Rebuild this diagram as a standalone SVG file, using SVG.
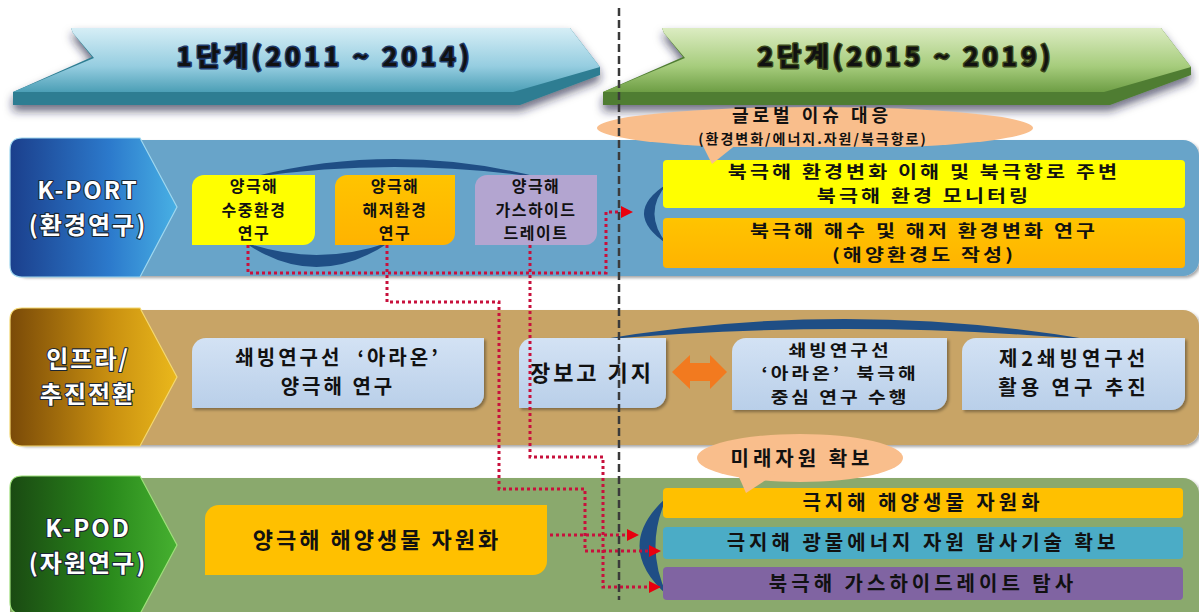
<svg xmlns="http://www.w3.org/2000/svg" width="1199" height="612" viewBox="0 0 1199 612">
<defs>
<style>
.t{font-family:"Noto Sans CJK KR","Noto Sans",sans-serif;font-weight:700;text-anchor:middle;fill:#111}
.s16{font-size:16px;letter-spacing:1.5px}
.s16w{font-size:16px;letter-spacing:2.5px}
.s165{font-size:16.5px;letter-spacing:2.5px}
.s20{font-size:20px;letter-spacing:4px}
.s20b{font-size:20px;letter-spacing:3px}
.s22{font-size:22px;letter-spacing:3px}
.lbl{font-size:24px;letter-spacing:2px;fill:#fff;stroke:#1b2633;stroke-width:2.2px;paint-order:stroke;stroke-linejoin:round}
.hd{font-size:26px;letter-spacing:4px;stroke-width:3px;paint-order:stroke;stroke-linejoin:round}
.c{fill:none;stroke:#c8103c;stroke-width:3;stroke-dasharray:3 3}
.ah{fill:#e8000f}
.arc{fill:#1f4e85}
.bx2{fill:url(#gBox2);filter:url(#sh2)}
.band{filter:url(#sh2)}
.peach{fill:#f9be8c}
</style>
<filter id="sh" x="-10%" y="-30%" width="120%" height="180%"><feDropShadow dx="0" dy="6" stdDeviation="5" flood-color="#1a1a40" flood-opacity="0.65"/></filter>
<filter id="sh2" x="-5%" y="-10%" width="110%" height="130%"><feDropShadow dx="2" dy="2" stdDeviation="1.5" flood-color="#000" flood-opacity="0.35"/></filter>
<clipPath id="clipTop"><rect x="0" y="0" width="1199" height="147"/></clipPath>
<linearGradient id="gH1" x1="0" y1="0" x2="0" y2="1"><stop offset="0" stop-color="#d6eef6"/><stop offset="0.6" stop-color="#95cde0"/><stop offset="1" stop-color="#4c9fb6"/></linearGradient>
<linearGradient id="gH2" x1="0" y1="0" x2="0" y2="1"><stop offset="0" stop-color="#dcecc2"/><stop offset="0.6" stop-color="#a6cc7c"/><stop offset="1" stop-color="#6e9e45"/></linearGradient>
<linearGradient id="gC1" x1="0" y1="0" x2="1" y2="0"><stop offset="0" stop-color="#1b3f8c"/><stop offset="0.6" stop-color="#2c7acc"/><stop offset="1" stop-color="#48b0e4"/></linearGradient>
<linearGradient id="gC2" x1="0" y1="0" x2="1" y2="0"><stop offset="0" stop-color="#7a4a08"/><stop offset="0.6" stop-color="#c99010"/><stop offset="1" stop-color="#eab81c"/></linearGradient>
<linearGradient id="gC3" x1="0" y1="0" x2="1" y2="0"><stop offset="0" stop-color="#1a4a12"/><stop offset="0.6" stop-color="#2a8a1c"/><stop offset="1" stop-color="#46b030"/></linearGradient>
<linearGradient id="gBox2" x1="0" y1="0" x2="0" y2="1"><stop offset="0" stop-color="#d3e2f4"/><stop offset="1" stop-color="#b9cfe9"/></linearGradient>
<linearGradient id="gOr" x1="0" y1="0" x2="0" y2="1"><stop offset="0" stop-color="#ffc400"/><stop offset="1" stop-color="#ffb300"/></linearGradient>
</defs>
<rect width="1199" height="612" fill="#fff"/>

<g id="phase1">
<path filter="url(#sh)" d="M13,92 L92,57 L73,33 L71,28 L570,28 L600,67 L600,75 L520,105 L13,105 Z" fill="#2d7d92"/>
<path d="M71,28 L570,28 L600,67 L513,92 L13,92 L94,58 L73,33 Z" fill="url(#gH1)"/>
<text class="t hd" x="325" y="66" fill="#d8eef8" stroke="#1e3a6a">1단계(2011 ~ 2014)</text>
</g>

<g id="phase2">
<path filter="url(#sh)" d="M603,92 L683,57 L664,33 L662,28 L1161,28 L1191,67 L1191,75 L1110,105 L603,105 Z" fill="#4f7d31"/>
<path d="M662,28 L1161,28 L1191,67 L1104,92 L603,92 L685,58 L664,33 Z" fill="url(#gH2)"/>
<text class="t hd" x="906" y="66" fill="#eef4c4" stroke="#39471a">2단계(2015 ~ 2019)</text>
</g>

<g id="band-kport">
<rect class="band" x="10" y="140" width="1189" height="136" rx="16" fill="#67a4c9"/>
<path d="M22,138 H140 L177,207 L140,277 H22 Q10,277 10,265 V150 Q10,138 22,138 Z" fill="url(#gC1)" stroke="#9fd8f0" stroke-width="1.2"/>
<text class="t lbl" x="88" y="199">K-PORT<tspan x="88" dy="35">(환경연구)</tspan></text>
</g>

<g id="band-infra">
<rect class="band" x="10" y="310" width="1189" height="135" rx="16" fill="#c8a466"/>
<path d="M22,308 H140 L177,377 L140,446 H22 Q10,446 10,434 V320 Q10,308 22,308 Z" fill="url(#gC2)" stroke="#f4d870" stroke-width="1.2"/>
<text class="t lbl" x="88" y="368">인프라/<tspan x="88" dy="35">추진전환</tspan></text>
</g>

<g id="band-kpod">
<rect class="band" x="10" y="478" width="1189" height="150" rx="16" fill="#8aa96d"/>
<path d="M22,476 H140 L177,545 L140,614 H22 Q10,614 10,602 V488 Q10,476 22,476 Z" fill="url(#gC3)" stroke="#9ee07a" stroke-width="1.2"/>
<text class="t lbl" x="88" y="537">K-POD<tspan x="88" dy="35">(자원연구)</tspan></text>
</g>

<g id="arc-kport-top"><path class="arc" d="M248,178 Q394,140 542,178 Q394,156 248,178 Z"/></g>
<g id="arc-kport-bottom"><path class="arc" d="M244,242 Q316,292 390,242 Q316,268 244,242 Z"/></g>

<g id="n-underwater">
<path d="M204,175 H315 V233 A12,12 0 0 1 303,245 H192 V187 A12,12 0 0 1 204,175 Z" fill="#ffff00"/>
<text class="t s16" x="254" y="192">양극해<tspan x="254" dy="23.5">수중환경</tspan><tspan x="254" dy="23.5">연구</tspan></text>
</g>
<g id="n-seabed">
<path d="M347,175 H455 V233 A12,12 0 0 1 443,245 H335 V187 A12,12 0 0 1 347,175 Z" fill="url(#gOr)"/>
<text class="t s16" x="395" y="192">양극해<tspan x="395" dy="23.5">해저환경</tspan><tspan x="395" dy="23.5">연구</tspan></text>
</g>
<g id="n-gashydrate">
<path d="M487,175 H597 V233 A12,12 0 0 1 585,245 H475 V187 A12,12 0 0 1 487,175 Z" fill="#b3a5d0"/>
<text class="t s16" x="536" y="192">양극해<tspan x="536" dy="23.5">가스하이드</tspan><tspan x="536" dy="23.5">드레이트</tspan></text>
</g>

<g id="bracket-kport"><path class="arc" d="M667,184 Q621,213 667,244 Q642,213 667,184 Z"/></g>
<g id="n-arctic-monitor">
<rect x="663" y="160" width="522" height="48" rx="4" fill="#ffff00"/>
<text class="t s165" transform="translate(924,0) scale(1.25,1)" x="0" y="178">북극해 환경변화 이해 및 북극항로 주변<tspan x="0" dy="24">북극해 환경 모니터링</tspan></text>
</g>
<g id="n-arctic-seawater">
<rect x="663" y="218" width="522" height="50" rx="4" fill="url(#gOr)"/>
<text class="t s165" transform="translate(924,0) scale(1.25,1)" x="0" y="237">북극해 해수 및 해저 환경변화 연구<tspan x="0" dy="24">(해양환경도 작성)</tspan></text>
</g>

<g id="arc-infra-top"><path class="arc" d="M598,340 Q845,298 1092,340 Q845,318 598,340 Z"/></g>
<g id="n-araon-polar">
<path class="bx2" d="M206,338 H484 V394 A14,14 0 0 1 470,408 H192 V352 A14,14 0 0 1 206,338 Z"/>
<text class="t s20b" x="338" y="365" xml:space="preserve">쇄빙연구선  ‘아라온’<tspan x="338" dy="29">양극해 연구</tspan></text>
</g>
<g id="n-jangbogo">
<path class="bx2" d="M533,338 H666 V394 A14,14 0 0 1 652,408 H519 V352 A14,14 0 0 1 533,338 Z"/>
<text class="t s22" x="592" y="381">장보고 기지</text>
</g>
<g id="n-double-arrow">
<path d="M672,372 L690,355 L690,363 L710,363 L710,355 L727,372 L710,389 L710,381 L690,381 L690,389 Z" fill="#f27a1f"/>
</g>
<g id="n-araon-arctic">
<path class="bx2" d="M746,338 H947 V396 A14,14 0 0 1 933,410 H732 V352 A14,14 0 0 1 746,338 Z"/>
<text class="t s16w" transform="translate(840,0) scale(1.2,1)" x="0" y="356" xml:space="preserve">쇄빙연구선<tspan x="0" dy="23.5">‘아라온’  북극해</tspan><tspan x="0" dy="23.5">중심 연구 수행</tspan></text>
</g>
<g id="n-second-icebreaker">
<path class="bx2" d="M976,338 H1185 V396 A14,14 0 0 1 1171,410 H962 V352 A14,14 0 0 1 976,338 Z"/>
<text class="t s20" x="1074" y="366">제2쇄빙연구선<tspan x="1074" dy="29">활용 연구 추진</tspan></text>
</g>

<g id="n-bio-polar">
<path d="M219,505 H547 V561 A14,14 0 0 1 533,575 H205 V519 A14,14 0 0 1 219,505 Z" fill="#ffc000"/>
<text class="t s22" x="377" y="548">양극해 해양생물 자원화</text>
</g>
<g id="bracket-kpod"><path class="arc" d="M667,497 Q612,546 667,595 Q644,546 667,497 Z"/></g>
<g id="n-bio-arctic">
<rect x="663" y="488" width="520" height="30" rx="4" fill="#ffc000"/>
<text class="t s20" x="923" y="510">극지해 해양생물 자원화</text>
</g>
<g id="n-mineral">
<rect x="663" y="527" width="520" height="32" rx="4" fill="#4bacc6"/>
<text class="t s20" x="923" y="550">극지해 광물에너지 자원 탐사기술 확보</text>
</g>
<g id="n-gas-arctic">
<rect x="663" y="567" width="520" height="33" rx="4" fill="#8064a2"/>
<text class="t s20" x="923" y="591">북극해 가스하이드레이트 탐사</text>
</g>

<g id="callout-global">
<ellipse class="peach" cx="815" cy="128" rx="218" ry="21" clip-path="url(#clipTop)"/>
<path class="peach" d="M700,140 L742,140 L712,164 Z"/>
<text class="t" x="812" y="122" style="font-size:18px;letter-spacing:4px">글로벌 이슈 대응<tspan x="813" dy="22" style="font-size:14px;letter-spacing:2px">(환경변화/에너지.자원/북극항로)</tspan></text>
</g>
<g id="callout-future">
<ellipse class="peach" cx="800" cy="458" rx="103" ry="24"/>
<path class="peach" d="M735,468 L778,472 L746,493 Z"/>
<text class="t s20" x="802" y="466">미래자원 확보</text>
</g>

<g id="connectors">
<path class="c" d="M248,245 V273 H606 V212 H622"/>
<path class="ah" d="M621,206 L633,212 L621,218 Z"/>
<path class="c" d="M387,245 V302 H499 V489 H585 V551 H650"/>
<path class="ah" d="M649,545 L661,551 L649,557 Z"/>
<path class="c" d="M530,245 V457 H603 V587 H650"/>
<path class="ah" d="M649,581 L661,587 L649,593 Z"/>
<path class="c" d="M550,535 H628"/>
<path class="ah" d="M627,529 L639,535 L627,541 Z"/>
</g>

<g id="phase-divider">
<line x1="619" y1="8" x2="619" y2="600" stroke="#3a3a3a" stroke-width="2.5" stroke-dasharray="8 4"/>
</g>
</svg>
